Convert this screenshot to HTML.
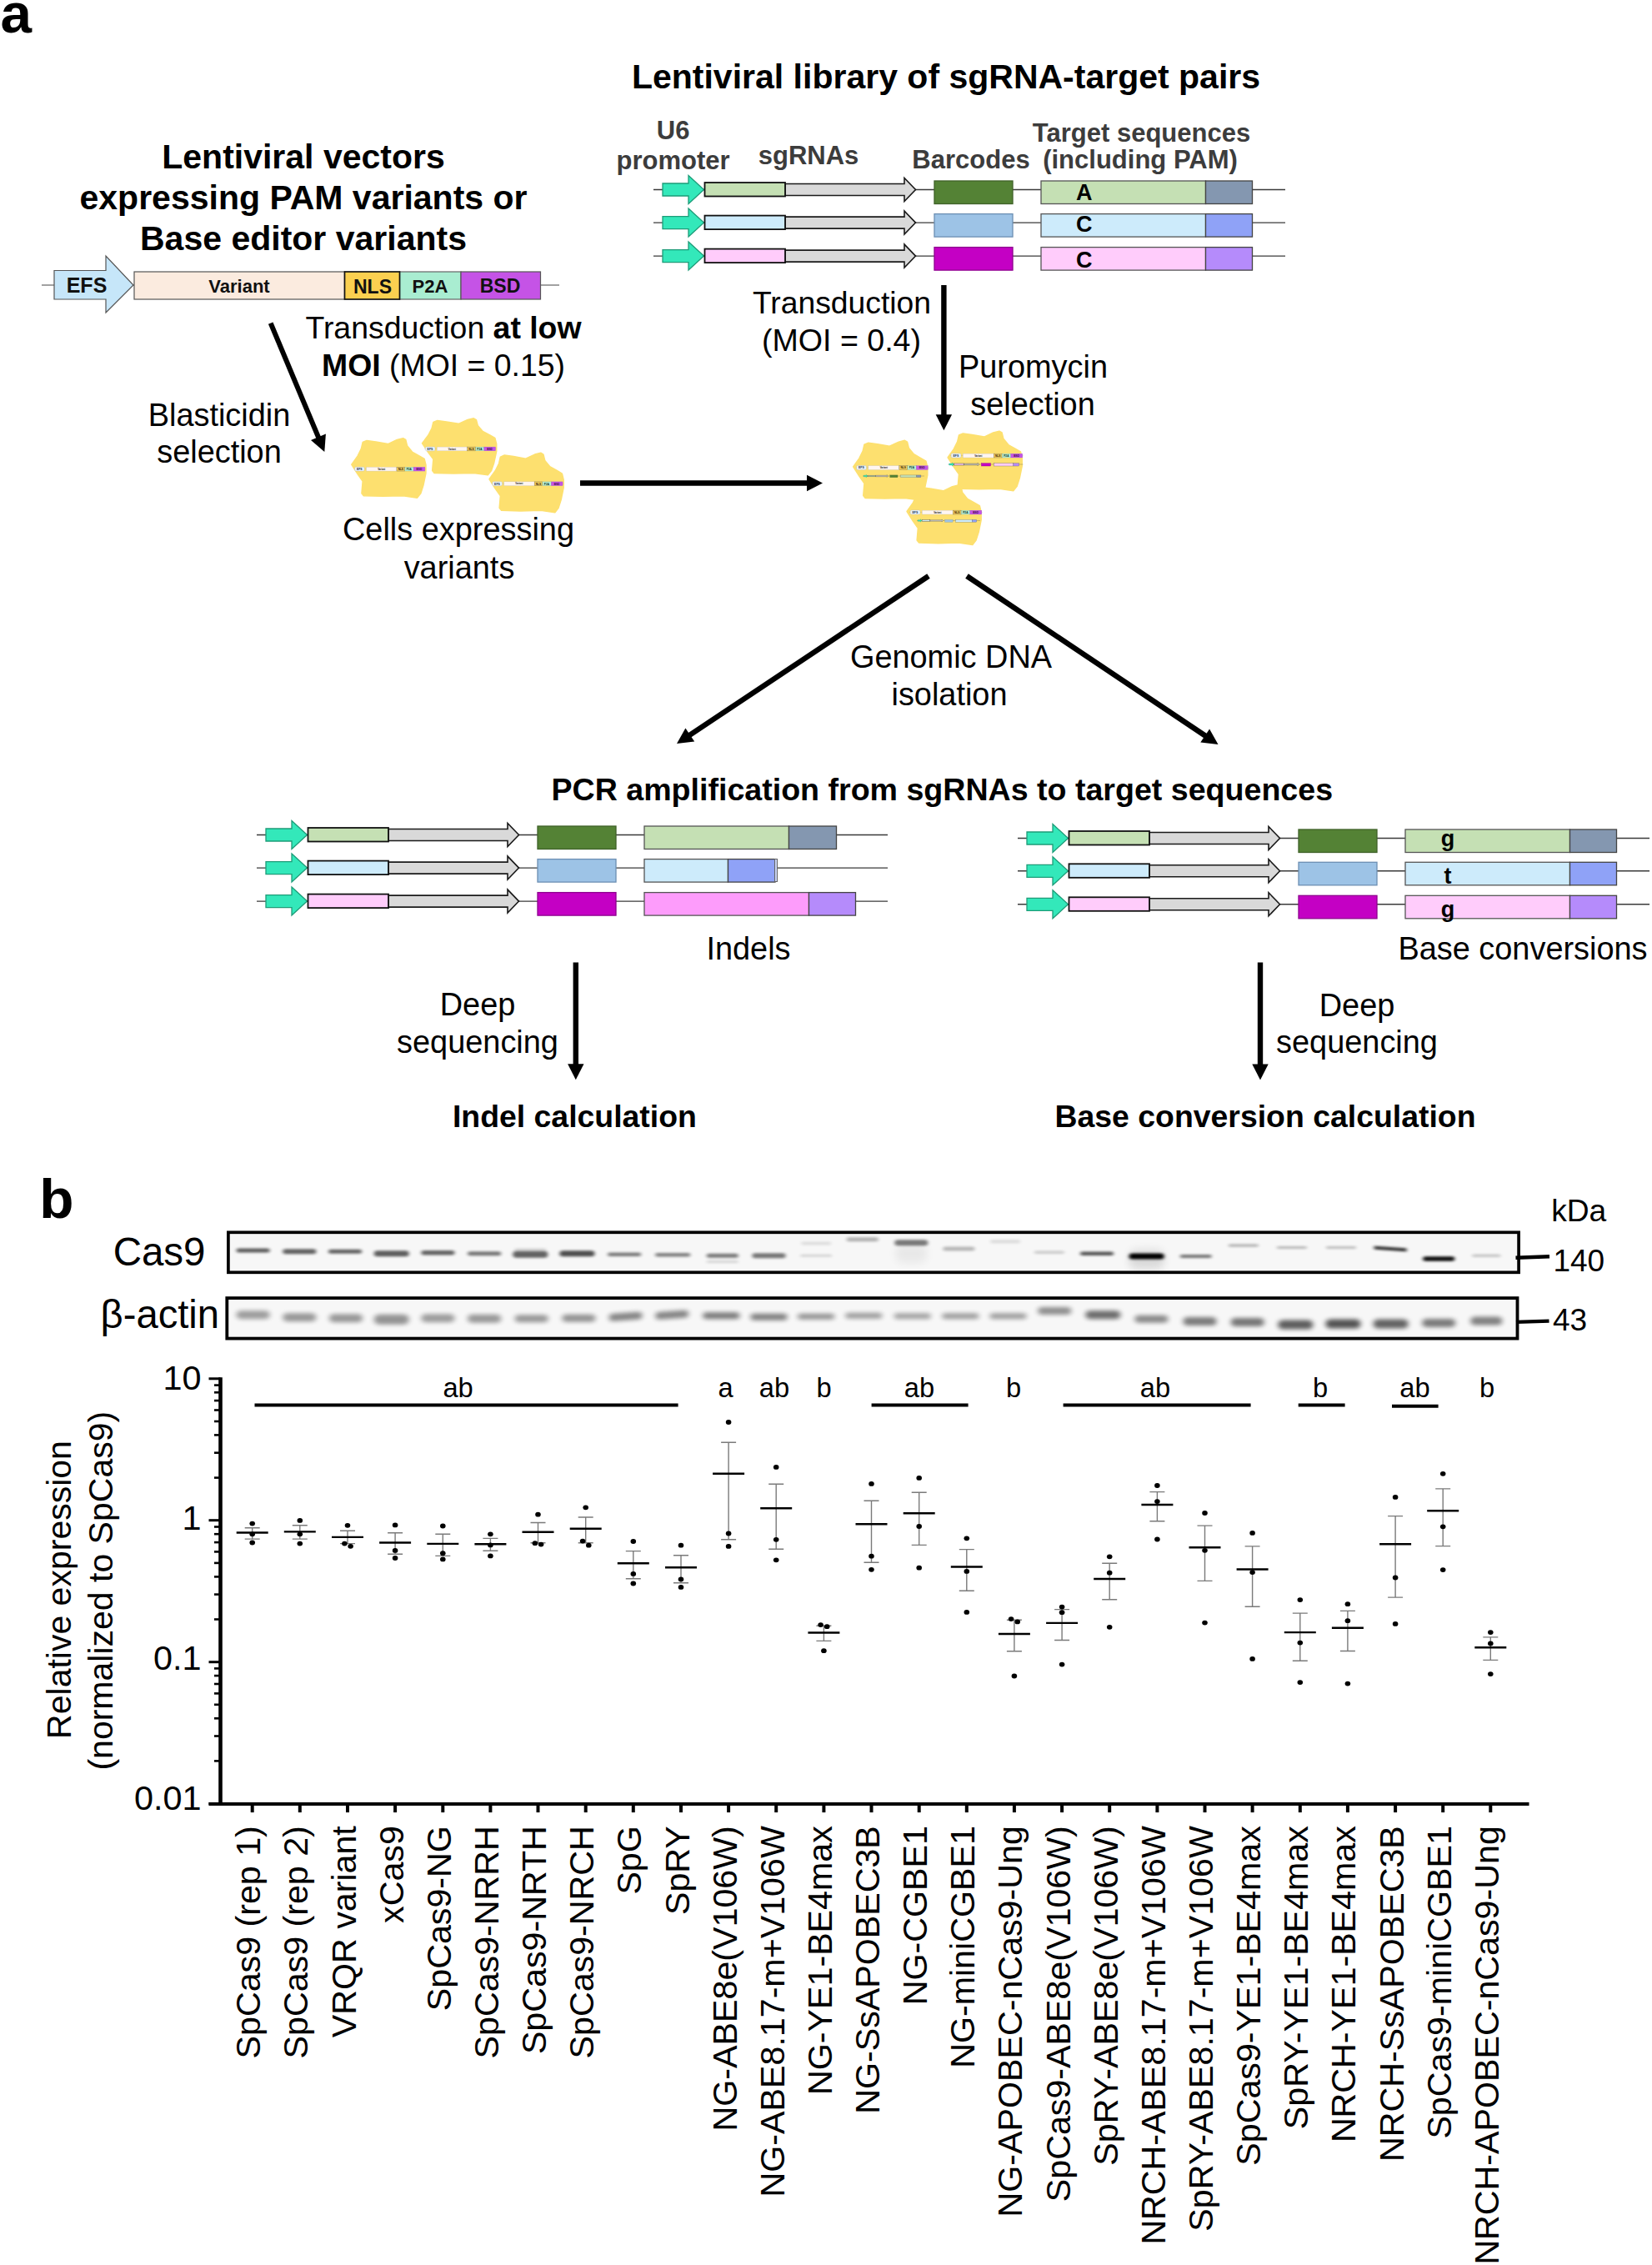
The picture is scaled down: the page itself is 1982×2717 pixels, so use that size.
<!DOCTYPE html><html><head><meta charset="utf-8"><title>Figure</title><style>html,body{margin:0;padding:0;background:#fff}svg{display:block}</style></head><body><svg width="1982" height="2717" viewBox="0 0 1982 2717" font-family='"Liberation Sans", sans-serif'>
<defs><filter id="b1" x="-20%" y="-200%" width="140%" height="500%"><feGaussianBlur stdDeviation="2.2 1.5"/></filter><filter id="b2" x="-20%" y="-200%" width="140%" height="500%"><feGaussianBlur stdDeviation="3.2 2.4"/></filter><filter id="b3" x="-20%" y="-100%" width="140%" height="300%"><feGaussianBlur stdDeviation="5 6"/></filter></defs>
<rect width="1982" height="2717" fill="#fff"/>
<text x="0.5" y="38.6" font-size="67.5" font-weight="700" text-anchor="start" fill="#000">a</text>
<text x="47.3" y="1460.8" font-size="67.5" font-weight="700" text-anchor="start" fill="#000">b</text>
<text x="364.0" y="201.6" font-size="41" font-weight="700" text-anchor="middle" fill="#000">Lentiviral vectors</text>
<text x="364.0" y="250.8" font-size="41" font-weight="700" text-anchor="middle" fill="#000">expressing PAM variants or</text>
<text x="364.0" y="300.0" font-size="41" font-weight="700" text-anchor="middle" fill="#000">Base editor variants</text>
<line x1="50" y1="342" x2="671" y2="342" stroke="#444" stroke-width="1.2"/>
<polygon points="65,324.5 127,324.5 127,307 160,342 127,375 127,359 65,359" fill="#c6e6f9" stroke="#555" stroke-width="1.2"/>
<rect x="161" y="326" width="252.5" height="33" fill="#fbebdf" stroke="#555" stroke-width="1.2"/>
<rect x="479.5" y="326" width="73.5" height="33" fill="#a9edd1" stroke="#666" stroke-width="1.2"/>
<rect x="553" y="326" width="95.5" height="33" fill="#c553e6" stroke="#555" stroke-width="1.2"/>
<rect x="413.5" y="326" width="66" height="33" fill="#fbd050" stroke="#111" stroke-width="1.68"/>
<text x="104.0" y="351.3" font-size="25" font-weight="700" text-anchor="middle" fill="#111">EFS</text>
<text x="287.0" y="351.3" font-size="22" font-weight="700" text-anchor="middle" fill="#111">Variant</text>
<text x="447.0" y="351.8" font-size="23" font-weight="700" text-anchor="middle" fill="#111">NLS</text>
<text x="516.0" y="351.3" font-size="22" font-weight="700" text-anchor="middle" fill="#111">P2A</text>
<text x="600.0" y="351.3" font-size="23" font-weight="700" text-anchor="middle" fill="#111">BSD</text>
<text x="1135.0" y="106.0" font-size="41" font-weight="700" text-anchor="middle" fill="#000">Lentiviral library of sgRNA-target pairs</text>
<text x="807.6" y="166.8" font-size="31" font-weight="700" text-anchor="middle" fill="#3c3c3c">U6</text>
<text x="807.6" y="203.3" font-size="31" font-weight="700" text-anchor="middle" fill="#3c3c3c">promoter</text>
<text x="970.0" y="196.8" font-size="31" font-weight="700" text-anchor="middle" fill="#3c3c3c">sgRNAs</text>
<text x="1165.0" y="201.6" font-size="31" font-weight="700" text-anchor="middle" fill="#3c3c3c">Barcodes</text>
<text x="1369.5" y="169.6" font-size="31" font-weight="700" text-anchor="middle" fill="#3c3c3c">Target sequences</text>
<text x="1368.0" y="202.2" font-size="31" font-weight="700" text-anchor="middle" fill="#3c3c3c">(including PAM)</text>
<line x1="784.0" y1="227.5" x2="1542.0" y2="227.5" stroke="#3a3a3a" stroke-width="1.4"/>
<polygon points="795.0,220.0 826.0,220.0 826.0,210.5 844.5,227.5 826.0,244.5 826.0,235.0 795.0,235.0" fill="#33e8ba" stroke="#1d9c78" stroke-width="1.3"/>
<polygon points="942.0,220.5 1085.0,220.5 1085.0,213.5 1098.5,227.5 1085.0,241.5 1085.0,234.5 942.0,234.5" fill="#d9d9d9" stroke="#1a1a1a" stroke-width="1.6"/>
<rect x="845.5" y="219.0" width="96.5" height="16.5" fill="#c5e0b4" stroke="#111" stroke-width="1.8"/>
<rect x="1121.0" y="217.0" width="94" height="27.5" fill="#548235" stroke="#3f6228" stroke-width="1.3"/>
<rect x="1249.0" y="217.0" width="197.5" height="27.5" fill="#c5e0b4" stroke="#555" stroke-width="1.3"/>
<rect x="1446.5" y="217.0" width="56.0" height="27.5" fill="#8497b0" stroke="#444" stroke-width="1.3"/>
<text x="1300.8" y="239.8" font-size="27" font-weight="700" text-anchor="middle" fill="#000">A</text>
<line x1="784.0" y1="267.1" x2="1542.0" y2="267.1" stroke="#3a3a3a" stroke-width="1.4"/>
<polygon points="795.0,259.6 826.0,259.6 826.0,250.1 844.5,267.1 826.0,284.1 826.0,274.6 795.0,274.6" fill="#33e8ba" stroke="#1d9c78" stroke-width="1.3"/>
<polygon points="942.0,260.1 1085.0,260.1 1085.0,253.1 1098.5,267.1 1085.0,281.1 1085.0,274.1 942.0,274.1" fill="#d9d9d9" stroke="#1a1a1a" stroke-width="1.6"/>
<rect x="845.5" y="258.6" width="96.5" height="16.5" fill="#cdebfb" stroke="#111" stroke-width="1.8"/>
<rect x="1121.0" y="256.6" width="94" height="27.5" fill="#9dc3e6" stroke="#6c8fb3" stroke-width="1.3"/>
<rect x="1249.0" y="256.6" width="197.5" height="27.5" fill="#cdebfb" stroke="#555" stroke-width="1.3"/>
<rect x="1446.5" y="256.6" width="56.0" height="27.5" fill="#8fa2f7" stroke="#444" stroke-width="1.3"/>
<text x="1300.8" y="277.9" font-size="27" font-weight="700" text-anchor="middle" fill="#000">C</text>
<line x1="784.0" y1="307.1" x2="1542.0" y2="307.1" stroke="#3a3a3a" stroke-width="1.4"/>
<polygon points="795.0,299.6 826.0,299.6 826.0,290.1 844.5,307.1 826.0,324.1 826.0,314.6 795.0,314.6" fill="#33e8ba" stroke="#1d9c78" stroke-width="1.3"/>
<polygon points="942.0,300.1 1085.0,300.1 1085.0,293.1 1098.5,307.1 1085.0,321.1 1085.0,314.1 942.0,314.1" fill="#d9d9d9" stroke="#1a1a1a" stroke-width="1.6"/>
<rect x="845.5" y="298.6" width="96.5" height="16.5" fill="#ffccfb" stroke="#111" stroke-width="1.8"/>
<rect x="1121.0" y="296.6" width="94" height="27.5" fill="#c400c4" stroke="#8e008e" stroke-width="1.3"/>
<rect x="1249.0" y="296.6" width="197.5" height="27.5" fill="#ffccfb" stroke="#555" stroke-width="1.3"/>
<rect x="1446.5" y="296.6" width="56.0" height="27.5" fill="#b58bfb" stroke="#444" stroke-width="1.3"/>
<text x="1300.8" y="320.9" font-size="27" font-weight="700" text-anchor="middle" fill="#000">C</text>
<text x="532" y="405.9" font-size="37.4" text-anchor="middle">Transduction <tspan font-weight="700">at low</tspan></text>
<text x="532" y="451.4" font-size="37.4" text-anchor="middle"><tspan font-weight="700">MOI</tspan> (MOI = 0.15)</text>
<text x="263.0" y="510.6" font-size="37.9" text-anchor="middle" fill="#000">Blasticidin</text>
<text x="263.0" y="555.1" font-size="37.9" text-anchor="middle" fill="#000">selection</text>
<text x="550.0" y="648.1" font-size="37.9" text-anchor="middle" fill="#000">Cells expressing</text>
<text x="551.0" y="693.6" font-size="37.9" text-anchor="middle" fill="#000">variants</text>
<text x="1010.0" y="376.0" font-size="37.3" text-anchor="middle" fill="#000">Transduction</text>
<text x="1009.5" y="421.3" font-size="37.6" text-anchor="middle" fill="#000">(MOI = 0.4)</text>
<text x="1239.5" y="453.4" font-size="37.9" text-anchor="middle" fill="#000">Puromycin</text>
<text x="1239.0" y="498.2" font-size="37.9" text-anchor="middle" fill="#000">selection</text>
<text x="1141.0" y="800.5" font-size="37.9" text-anchor="middle" fill="#000">Genomic DNA</text>
<text x="1139.0" y="845.6" font-size="37.9" text-anchor="middle" fill="#000">isolation</text>
<line x1="324.7" y1="387.6" x2="382.7" y2="526.2" stroke="#000" stroke-width="6"/>
<polygon points="389.3,541.9 373.0,528.1 390.9,520.6" fill="#000"/>
<line x1="1132.4" y1="342.0" x2="1132.4" y2="499.3" stroke="#000" stroke-width="6.4"/>
<polygon points="1132.4,516.3 1122.7,497.3 1142.1,497.3" fill="#000"/>
<line x1="696.0" y1="579.5" x2="970.0" y2="579.5" stroke="#000" stroke-width="6.4"/>
<polygon points="987.0,579.5 968.0,589.2 968.0,569.8" fill="#000"/>
<line x1="1114.0" y1="691.0" x2="826.2" y2="882.6" stroke="#000" stroke-width="6.4"/>
<polygon points="812.0,892.0 822.4,873.4 833.2,889.5" fill="#000"/>
<line x1="1160.0" y1="691.0" x2="1447.4" y2="883.5" stroke="#000" stroke-width="6.4"/>
<polygon points="1461.5,893.0 1440.3,890.5 1451.1,874.4" fill="#000"/>
<line x1="690.8" y1="1154.5" x2="690.8" y2="1278.3" stroke="#000" stroke-width="6.4"/>
<polygon points="690.8,1295.3 681.1,1276.3 700.5,1276.3" fill="#000"/>
<line x1="1512.0" y1="1154.5" x2="1512.0" y2="1278.6" stroke="#000" stroke-width="6.4"/>
<polygon points="1512.0,1295.6 1502.3,1276.6 1521.7,1276.6" fill="#000"/>
<polygon points="421.9,557.2 429.2,546.9 433.4,538.4 435.2,530.6 440.1,528.5 451.0,530.0 465.5,532.6 476.4,527.5 483.6,525.7 486.7,527.5 488.5,534.8 494.5,542.1 503.0,546.9 509.1,550.5 510.9,557.8 510.9,567.5 507.9,582.0 504.8,591.7 500.6,597.1 483.6,594.7 459.4,595.3 436.4,594.7 434.0,591.7 435.2,577.2 429.2,568.7" fill="#fde06f" stroke="#fde06f" stroke-width="1.6" stroke-linejoin="round"/>
<polygon points="506.6,531.8 513.9,522.0 518.1,513.9 519.9,506.5 524.8,504.5 535.7,506.0 550.2,508.4 561.1,503.6 568.3,501.9 571.4,503.6 573.2,510.5 579.2,517.5 587.7,522.0 593.8,525.4 595.6,532.4 595.6,541.6 592.6,555.4 589.5,564.6 585.3,569.7 568.3,567.4 544.1,568.0 521.1,567.4 518.7,564.6 519.9,550.8 513.9,542.7" fill="#fde06f" stroke="#fde06f" stroke-width="1.6" stroke-linejoin="round"/>
<polygon points="587.1,574.8 594.4,564.5 598.6,556.0 600.4,548.2 605.3,546.1 616.2,547.6 630.7,550.2 641.6,545.1 648.8,543.3 651.9,545.1 653.7,552.4 659.7,559.7 668.2,564.5 674.3,568.1 676.1,575.4 676.1,585.1 673.1,599.6 670.0,609.3 665.8,614.7 648.8,612.3 624.6,612.9 601.6,612.3 599.2,609.3 600.4,594.8 594.4,586.3" fill="#fde06f" stroke="#fde06f" stroke-width="1.6" stroke-linejoin="round"/>
<g transform="translate(423.5,562.6) scale(0.1443)">
<line x1="8" y1="0" x2="605" y2="0" stroke="#999" stroke-width="2"/>
<rect x="15" y="-17" width="80" height="34" rx="10" fill="#eaf5fc" stroke="#aac" stroke-width="2"/>
<rect x="111" y="-16" width="252.5" height="33" fill="#fff6f0" stroke="#bbb" stroke-width="2"/>
<rect x="429.5" y="-16" width="73.5" height="33" fill="#b5efd8" stroke="#8a8" stroke-width="2"/>
<rect x="503" y="-16" width="95.5" height="33" fill="#c553e6" stroke="#96c" stroke-width="2"/>
<rect x="363.5" y="-16" width="66" height="33" fill="#f3cf5a" stroke="#875" stroke-width="3"/>
<text x="54.0" y="9.3" font-size="24" font-weight="700" text-anchor="middle" fill="#235">EFS</text>
<text x="237.0" y="8.3" font-size="19" font-weight="700" text-anchor="middle" fill="#222">Variant</text>
<text x="397.0" y="9.3" font-size="22" font-weight="700" text-anchor="middle" fill="#321">NLS</text>
<text x="466.0" y="9.3" font-size="22" font-weight="700" text-anchor="middle" fill="#132">P2A</text>
<text x="550.0" y="9.3" font-size="22" font-weight="700" text-anchor="middle" fill="#414">BSD</text>
</g>
<g transform="translate(508.2,538.4) scale(0.1443)">
<line x1="8" y1="0" x2="605" y2="0" stroke="#999" stroke-width="2"/>
<rect x="15" y="-17" width="80" height="34" rx="10" fill="#eaf5fc" stroke="#aac" stroke-width="2"/>
<rect x="111" y="-16" width="252.5" height="33" fill="#fff6f0" stroke="#bbb" stroke-width="2"/>
<rect x="429.5" y="-16" width="73.5" height="33" fill="#b5efd8" stroke="#8a8" stroke-width="2"/>
<rect x="503" y="-16" width="95.5" height="33" fill="#c553e6" stroke="#96c" stroke-width="2"/>
<rect x="363.5" y="-16" width="66" height="33" fill="#f3cf5a" stroke="#875" stroke-width="3"/>
<text x="54.0" y="9.3" font-size="24" font-weight="700" text-anchor="middle" fill="#235">EFS</text>
<text x="237.0" y="8.3" font-size="19" font-weight="700" text-anchor="middle" fill="#222">Variant</text>
<text x="397.0" y="9.3" font-size="22" font-weight="700" text-anchor="middle" fill="#321">NLS</text>
<text x="466.0" y="9.3" font-size="22" font-weight="700" text-anchor="middle" fill="#132">P2A</text>
<text x="550.0" y="9.3" font-size="22" font-weight="700" text-anchor="middle" fill="#414">BSD</text>
</g>
<g transform="translate(588.7,580.2) scale(0.1443)">
<line x1="8" y1="0" x2="605" y2="0" stroke="#999" stroke-width="2"/>
<rect x="15" y="-17" width="80" height="34" rx="10" fill="#eaf5fc" stroke="#aac" stroke-width="2"/>
<rect x="111" y="-16" width="252.5" height="33" fill="#fff6f0" stroke="#bbb" stroke-width="2"/>
<rect x="429.5" y="-16" width="73.5" height="33" fill="#b5efd8" stroke="#8a8" stroke-width="2"/>
<rect x="503" y="-16" width="95.5" height="33" fill="#c553e6" stroke="#96c" stroke-width="2"/>
<rect x="363.5" y="-16" width="66" height="33" fill="#f3cf5a" stroke="#875" stroke-width="3"/>
<text x="54.0" y="9.3" font-size="24" font-weight="700" text-anchor="middle" fill="#235">EFS</text>
<text x="237.0" y="8.3" font-size="19" font-weight="700" text-anchor="middle" fill="#222">Variant</text>
<text x="397.0" y="9.3" font-size="22" font-weight="700" text-anchor="middle" fill="#321">NLS</text>
<text x="466.0" y="9.3" font-size="22" font-weight="700" text-anchor="middle" fill="#132">P2A</text>
<text x="550.0" y="9.3" font-size="22" font-weight="700" text-anchor="middle" fill="#414">BSD</text>
</g>
<polygon points="1023.7,559.9 1031.0,549.6 1035.2,541.1 1037.0,533.3 1041.9,531.2 1052.8,532.7 1067.3,535.3 1078.2,530.2 1085.4,528.4 1088.5,530.2 1090.3,537.5 1096.3,544.8 1104.8,549.6 1110.9,553.2 1112.7,560.5 1112.7,570.2 1109.7,584.7 1106.6,594.4 1102.4,599.8 1085.4,597.4 1061.2,598.0 1038.2,597.4 1035.8,594.4 1037.0,579.9 1031.0,571.4" fill="#fde06f" stroke="#fde06f" stroke-width="1.6" stroke-linejoin="round"/>
<polygon points="1137.2,548.7 1144.5,538.4 1148.7,529.9 1150.5,522.1 1155.4,520.0 1166.3,521.5 1180.8,524.1 1191.7,519.0 1198.9,517.2 1202.0,519.0 1203.8,526.3 1209.8,533.6 1218.3,538.4 1224.4,542.0 1226.2,549.3 1226.2,559.0 1223.2,573.5 1220.1,583.2 1215.9,588.6 1198.9,586.2 1174.7,586.8 1151.7,586.2 1149.3,583.2 1150.5,568.7 1144.5,560.2" fill="#fde06f" stroke="#fde06f" stroke-width="1.6" stroke-linejoin="round"/>
<polygon points="1088.1,613.5 1095.4,603.2 1099.6,594.7 1101.4,586.9 1106.3,584.8 1117.2,586.3 1131.7,588.9 1142.6,583.8 1149.8,582.0 1152.9,583.8 1154.7,591.1 1160.7,598.4 1169.2,603.2 1175.3,606.8 1177.1,614.1 1177.1,623.8 1174.1,638.3 1171.0,648.0 1166.8,653.4 1149.8,651.0 1125.6,651.6 1102.6,651.0 1100.2,648.0 1101.4,633.5 1095.4,625.0" fill="#fde06f" stroke="#fde06f" stroke-width="1.6" stroke-linejoin="round"/>
<g transform="translate(1025.5,561.0) scale(0.1467)">
<line x1="8" y1="0" x2="605" y2="0" stroke="#999" stroke-width="2"/>
<rect x="15" y="-17" width="80" height="34" rx="10" fill="#eaf5fc" stroke="#aac" stroke-width="2"/>
<rect x="111" y="-16" width="252.5" height="33" fill="#fff6f0" stroke="#bbb" stroke-width="2"/>
<rect x="429.5" y="-16" width="73.5" height="33" fill="#b5efd8" stroke="#8a8" stroke-width="2"/>
<rect x="503" y="-16" width="95.5" height="33" fill="#c553e6" stroke="#96c" stroke-width="2"/>
<rect x="363.5" y="-16" width="66" height="33" fill="#f3cf5a" stroke="#875" stroke-width="3"/>
<text x="54.0" y="9.3" font-size="24" font-weight="700" text-anchor="middle" fill="#235">EFS</text>
<text x="237.0" y="8.3" font-size="19" font-weight="700" text-anchor="middle" fill="#222">Variant</text>
<text x="397.0" y="9.3" font-size="22" font-weight="700" text-anchor="middle" fill="#321">NLS</text>
<text x="466.0" y="9.3" font-size="22" font-weight="700" text-anchor="middle" fill="#132">P2A</text>
<text x="550.0" y="9.3" font-size="22" font-weight="700" text-anchor="middle" fill="#414">BSD</text>
</g>
<g transform="translate(1035.0,571.0) scale(0.0974)">
<line x1="0" y1="0" x2="760" y2="0" stroke="#555" stroke-width="3"/>
<polygon points="11,-8 42,-8 42,-17 60,0 42,17 42,8 11,8" fill="#33e8ba" stroke="#1d9c78" stroke-width="3"/>
<polygon points="158,-7 301,-7 301,-14 314,0 301,14 301,7 158,7" fill="#d9d9d9" stroke="#444" stroke-width="4"/>
<rect x="61" y="-8.5" width="97" height="17" fill="#c5e0b4" stroke="#444" stroke-width="4"/>
<rect x="337" y="-11" width="94" height="28" fill="#548235" stroke="#3f6228" stroke-width="3"/>
<rect x="465" y="-11" width="197" height="28" fill="#c5e0b4" stroke="#666" stroke-width="3"/>
<rect x="662" y="-11" width="56" height="28" fill="#8497b0" stroke="#666" stroke-width="3"/>
</g>
<g transform="translate(1139.0,546.5) scale(0.1467)">
<line x1="8" y1="0" x2="605" y2="0" stroke="#999" stroke-width="2"/>
<rect x="15" y="-17" width="80" height="34" rx="10" fill="#eaf5fc" stroke="#aac" stroke-width="2"/>
<rect x="111" y="-16" width="252.5" height="33" fill="#fff6f0" stroke="#bbb" stroke-width="2"/>
<rect x="429.5" y="-16" width="73.5" height="33" fill="#b5efd8" stroke="#8a8" stroke-width="2"/>
<rect x="503" y="-16" width="95.5" height="33" fill="#c553e6" stroke="#96c" stroke-width="2"/>
<rect x="363.5" y="-16" width="66" height="33" fill="#f3cf5a" stroke="#875" stroke-width="3"/>
<text x="54.0" y="9.3" font-size="24" font-weight="700" text-anchor="middle" fill="#235">EFS</text>
<text x="237.0" y="8.3" font-size="19" font-weight="700" text-anchor="middle" fill="#222">Variant</text>
<text x="397.0" y="9.3" font-size="22" font-weight="700" text-anchor="middle" fill="#321">NLS</text>
<text x="466.0" y="9.3" font-size="22" font-weight="700" text-anchor="middle" fill="#132">P2A</text>
<text x="550.0" y="9.3" font-size="22" font-weight="700" text-anchor="middle" fill="#414">BSD</text>
</g>
<g transform="translate(1137.5,557.0) scale(0.1184)">
<line x1="0" y1="0" x2="760" y2="0" stroke="#555" stroke-width="3"/>
<polygon points="11,-8 42,-8 42,-17 60,0 42,17 42,8 11,8" fill="#33e8ba" stroke="#1d9c78" stroke-width="3"/>
<polygon points="158,-7 301,-7 301,-14 314,0 301,14 301,7 158,7" fill="#d9d9d9" stroke="#444" stroke-width="4"/>
<rect x="61" y="-8.5" width="97" height="17" fill="#ffccfb" stroke="#444" stroke-width="4"/>
<rect x="337" y="-11" width="94" height="28" fill="#c400c4" stroke="#8e008e" stroke-width="3"/>
<rect x="465" y="-11" width="197" height="28" fill="#ffccfb" stroke="#666" stroke-width="3"/>
<rect x="662" y="-11" width="56" height="28" fill="#b58bfb" stroke="#666" stroke-width="3"/>
</g>
<g transform="translate(1090.0,614.5) scale(0.1467)">
<line x1="8" y1="0" x2="605" y2="0" stroke="#999" stroke-width="2"/>
<rect x="15" y="-17" width="80" height="34" rx="10" fill="#eaf5fc" stroke="#aac" stroke-width="2"/>
<rect x="111" y="-16" width="252.5" height="33" fill="#fff6f0" stroke="#bbb" stroke-width="2"/>
<rect x="429.5" y="-16" width="73.5" height="33" fill="#b5efd8" stroke="#8a8" stroke-width="2"/>
<rect x="503" y="-16" width="95.5" height="33" fill="#c553e6" stroke="#96c" stroke-width="2"/>
<rect x="363.5" y="-16" width="66" height="33" fill="#f3cf5a" stroke="#875" stroke-width="3"/>
<text x="54.0" y="9.3" font-size="24" font-weight="700" text-anchor="middle" fill="#235">EFS</text>
<text x="237.0" y="8.3" font-size="19" font-weight="700" text-anchor="middle" fill="#222">Variant</text>
<text x="397.0" y="9.3" font-size="22" font-weight="700" text-anchor="middle" fill="#321">NLS</text>
<text x="466.0" y="9.3" font-size="22" font-weight="700" text-anchor="middle" fill="#132">P2A</text>
<text x="550.0" y="9.3" font-size="22" font-weight="700" text-anchor="middle" fill="#414">BSD</text>
</g>
<g transform="translate(1100.0,624.5) scale(0.1000)">
<line x1="0" y1="0" x2="760" y2="0" stroke="#555" stroke-width="3"/>
<polygon points="11,-8 42,-8 42,-17 60,0 42,17 42,8 11,8" fill="#33e8ba" stroke="#1d9c78" stroke-width="3"/>
<polygon points="158,-7 301,-7 301,-14 314,0 301,14 301,7 158,7" fill="#d9d9d9" stroke="#444" stroke-width="4"/>
<rect x="61" y="-8.5" width="97" height="17" fill="#cdebfb" stroke="#444" stroke-width="4"/>
<rect x="337" y="-11" width="94" height="28" fill="#9dc3e6" stroke="#6c8fb3" stroke-width="3"/>
<rect x="465" y="-11" width="197" height="28" fill="#cdebfb" stroke="#666" stroke-width="3"/>
<rect x="662" y="-11" width="56" height="28" fill="#8fa2f7" stroke="#666" stroke-width="3"/>
</g>
<text x="1130.3" y="959.8" font-size="37.6" font-weight="700" text-anchor="middle" fill="#000">PCR amplification from sgRNAs to target sequences</text>
<line x1="308.0" y1="1001.5" x2="1065.0" y2="1001.5" stroke="#3a3a3a" stroke-width="1.4"/>
<polygon points="319.0,994.0 350.0,994.0 350.0,984.5 368.5,1001.5 350.0,1018.5 350.0,1009.0 319.0,1009.0" fill="#33e8ba" stroke="#1d9c78" stroke-width="1.3"/>
<polygon points="466.0,994.5 609.0,994.5 609.0,987.5 622.5,1001.5 609.0,1015.5 609.0,1008.5 466.0,1008.5" fill="#d9d9d9" stroke="#1a1a1a" stroke-width="1.6"/>
<rect x="369.5" y="993.0" width="96.5" height="16.5" fill="#c5e0b4" stroke="#111" stroke-width="1.8"/>
<rect x="645.0" y="991.0" width="94" height="27.5" fill="#548235" stroke="#3f6228" stroke-width="1.3"/>
<rect x="773.0" y="991.0" width="173.5" height="27.5" fill="#c5e0b4" stroke="#555" stroke-width="1.3"/>
<rect x="946.5" y="991.0" width="57.0" height="27.5" fill="#8497b0" stroke="#444" stroke-width="1.3"/>
<line x1="308.0" y1="1041.1" x2="1065.0" y2="1041.1" stroke="#3a3a3a" stroke-width="1.4"/>
<polygon points="319.0,1033.6 350.0,1033.6 350.0,1024.1 368.5,1041.1 350.0,1058.1 350.0,1048.6 319.0,1048.6" fill="#33e8ba" stroke="#1d9c78" stroke-width="1.3"/>
<polygon points="466.0,1034.1 609.0,1034.1 609.0,1027.1 622.5,1041.1 609.0,1055.1 609.0,1048.1 466.0,1048.1" fill="#d9d9d9" stroke="#1a1a1a" stroke-width="1.6"/>
<rect x="369.5" y="1032.6" width="96.5" height="16.5" fill="#cdebfb" stroke="#111" stroke-width="1.8"/>
<rect x="645.0" y="1030.6" width="94" height="27.5" fill="#9dc3e6" stroke="#6c8fb3" stroke-width="1.3"/>
<rect x="773.0" y="1030.6" width="100.5" height="27.5" fill="#cdebfb" stroke="#555" stroke-width="1.3"/>
<rect x="873.5" y="1030.6" width="56.5" height="27.5" fill="#8fa2f7" stroke="#444" stroke-width="1.3"/>
<line x1="308.0" y1="1081.1" x2="1065.0" y2="1081.1" stroke="#3a3a3a" stroke-width="1.4"/>
<polygon points="319.0,1073.6 350.0,1073.6 350.0,1064.1 368.5,1081.1 350.0,1098.1 350.0,1088.6 319.0,1088.6" fill="#33e8ba" stroke="#1d9c78" stroke-width="1.3"/>
<polygon points="466.0,1074.1 609.0,1074.1 609.0,1067.1 622.5,1081.1 609.0,1095.1 609.0,1088.1 466.0,1088.1" fill="#d9d9d9" stroke="#1a1a1a" stroke-width="1.6"/>
<rect x="369.5" y="1072.6" width="96.5" height="16.5" fill="#ffccfb" stroke="#111" stroke-width="1.8"/>
<rect x="645.0" y="1070.6" width="94" height="27.5" fill="#c400c4" stroke="#8e008e" stroke-width="1.3"/>
<rect x="773.0" y="1070.6" width="197.5" height="27.5" fill="#fd9cfb" stroke="#555" stroke-width="1.3"/>
<rect x="970.5" y="1070.6" width="56.0" height="27.5" fill="#b58bfb" stroke="#444" stroke-width="1.3"/>
<rect x="929.5" y="1030.5" width="3" height="27" fill="#c9d4f5" stroke="#666" stroke-width="1"/>
<line x1="1221.0" y1="1005.5" x2="1979.0" y2="1005.5" stroke="#3a3a3a" stroke-width="1.4"/>
<polygon points="1232.0,998.0 1263.0,998.0 1263.0,988.5 1281.5,1005.5 1263.0,1022.5 1263.0,1013.0 1232.0,1013.0" fill="#33e8ba" stroke="#1d9c78" stroke-width="1.3"/>
<polygon points="1379.0,998.5 1522.0,998.5 1522.0,991.5 1535.5,1005.5 1522.0,1019.5 1522.0,1012.5 1379.0,1012.5" fill="#d9d9d9" stroke="#1a1a1a" stroke-width="1.6"/>
<rect x="1282.5" y="997.0" width="96.5" height="16.5" fill="#c5e0b4" stroke="#111" stroke-width="1.8"/>
<rect x="1558.0" y="995.0" width="94" height="27.5" fill="#548235" stroke="#3f6228" stroke-width="1.3"/>
<rect x="1686.0" y="995.0" width="197.5" height="27.5" fill="#c5e0b4" stroke="#555" stroke-width="1.3"/>
<rect x="1883.5" y="995.0" width="56.0" height="27.5" fill="#8497b0" stroke="#444" stroke-width="1.3"/>
<text x="1737.0" y="1014.8" font-size="27" font-weight="700" text-anchor="middle" fill="#000">g</text>
<line x1="1221.0" y1="1044.8" x2="1979.0" y2="1044.8" stroke="#3a3a3a" stroke-width="1.4"/>
<polygon points="1232.0,1037.3 1263.0,1037.3 1263.0,1027.8 1281.5,1044.8 1263.0,1061.8 1263.0,1052.3 1232.0,1052.3" fill="#33e8ba" stroke="#1d9c78" stroke-width="1.3"/>
<polygon points="1379.0,1037.8 1522.0,1037.8 1522.0,1030.8 1535.5,1044.8 1522.0,1058.8 1522.0,1051.8 1379.0,1051.8" fill="#d9d9d9" stroke="#1a1a1a" stroke-width="1.6"/>
<rect x="1282.5" y="1036.3" width="96.5" height="16.5" fill="#cdebfb" stroke="#111" stroke-width="1.8"/>
<rect x="1558.0" y="1034.3" width="94" height="27.5" fill="#9dc3e6" stroke="#6c8fb3" stroke-width="1.3"/>
<rect x="1686.0" y="1034.3" width="197.5" height="27.5" fill="#cdebfb" stroke="#555" stroke-width="1.3"/>
<rect x="1883.5" y="1034.3" width="56.0" height="27.5" fill="#8fa2f7" stroke="#444" stroke-width="1.3"/>
<text x="1737.0" y="1059.6" font-size="27" font-weight="700" text-anchor="middle" fill="#000">t</text>
<line x1="1221.0" y1="1084.8" x2="1979.0" y2="1084.8" stroke="#3a3a3a" stroke-width="1.4"/>
<polygon points="1232.0,1077.3 1263.0,1077.3 1263.0,1067.8 1281.5,1084.8 1263.0,1101.8 1263.0,1092.3 1232.0,1092.3" fill="#33e8ba" stroke="#1d9c78" stroke-width="1.3"/>
<polygon points="1379.0,1077.8 1522.0,1077.8 1522.0,1070.8 1535.5,1084.8 1522.0,1098.8 1522.0,1091.8 1379.0,1091.8" fill="#d9d9d9" stroke="#1a1a1a" stroke-width="1.6"/>
<rect x="1282.5" y="1076.3" width="96.5" height="16.5" fill="#ffccfb" stroke="#111" stroke-width="1.8"/>
<rect x="1558.0" y="1074.3" width="94" height="27.5" fill="#c400c4" stroke="#8e008e" stroke-width="1.3"/>
<rect x="1686.0" y="1074.3" width="197.5" height="27.5" fill="#ffccfb" stroke="#555" stroke-width="1.3"/>
<rect x="1883.5" y="1074.3" width="56.0" height="27.5" fill="#b58bfb" stroke="#444" stroke-width="1.3"/>
<text x="1737.0" y="1099.6" font-size="27" font-weight="700" text-anchor="middle" fill="#000">g</text>
<text x="898.0" y="1151.4" font-size="37.9" text-anchor="middle" fill="#000">Indels</text>
<text x="1827.0" y="1150.8" font-size="37.9" text-anchor="middle" fill="#000">Base conversions</text>
<text x="573.0" y="1217.8" font-size="37.9" text-anchor="middle" fill="#000">Deep</text>
<text x="573.0" y="1263.1" font-size="37.9" text-anchor="middle" fill="#000">sequencing</text>
<text x="1628.0" y="1218.8" font-size="37.9" text-anchor="middle" fill="#000">Deep</text>
<text x="1628.0" y="1262.5" font-size="37.9" text-anchor="middle" fill="#000">sequencing</text>
<text x="689.4" y="1352.1" font-size="37.4" font-weight="700" text-anchor="middle" fill="#000">Indel calculation</text>
<text x="1518.0" y="1352.3" font-size="37.4" font-weight="700" text-anchor="middle" fill="#000">Base conversion calculation</text>
<text x="191.1" y="1518.2" font-size="47.5" text-anchor="middle" fill="#000">Cas9</text>
<text x="191.8" y="1592.6" font-size="47.2" text-anchor="middle" fill="#000">β-actin</text>
<text x="1894.2" y="1465.1" font-size="37.2" text-anchor="middle" fill="#000">kDa</text>
<text x="1863.4" y="1524.6" font-size="37" text-anchor="start" fill="#000">140</text>
<text x="1863.0" y="1596.2" font-size="37" text-anchor="start" fill="#000">43</text>
<rect x="273.9" y="1478.3" width="1548.2" height="48" fill="#f7f7f7"/>
<rect x="272.3" y="1557.1" width="1548.2" height="48.5" fill="#f7f7f7"/>
<rect x="283.6" y="1497.4" width="40" height="5" rx="2.5" fill="#000" opacity="0.62" filter="url(#b1)"/>
<rect x="339.3" y="1498.3" width="40" height="6" rx="3.0" fill="#000" opacity="0.6" filter="url(#b1)"/>
<rect x="394.0" y="1498.8" width="40" height="5" rx="2.5" fill="#000" opacity="0.6" filter="url(#b1)"/>
<rect x="448.7" y="1500.2" width="42" height="7" rx="3.5" fill="#000" opacity="0.62" filter="url(#b1)"/>
<rect x="505.4" y="1500.0" width="40" height="5.5" rx="2.8" fill="#000" opacity="0.6" filter="url(#b1)"/>
<rect x="561.1" y="1501.2" width="40" height="5" rx="2.5" fill="#000" opacity="0.52" filter="url(#b1)"/>
<rect x="615.3" y="1500.7" width="42" height="8" rx="4.0" fill="#000" opacity="0.6" filter="url(#b1)"/>
<rect x="671.4" y="1500.2" width="42" height="7" rx="3.5" fill="#000" opacity="0.68" filter="url(#b1)"/>
<rect x="729.1" y="1502.5" width="40" height="4.5" rx="2.2" fill="#000" opacity="0.5" filter="url(#b1)"/>
<rect x="786.2" y="1502.9" width="42" height="4.5" rx="2.2" fill="#000" opacity="0.48" filter="url(#b1)"/>
<rect x="847.8" y="1503.7" width="38" height="5" rx="2.5" fill="#000" opacity="0.5" filter="url(#b1)"/>
<rect x="902.5" y="1503.2" width="40" height="6" rx="3.0" fill="#000" opacity="0.52" filter="url(#b1)"/>
<rect x="961.1" y="1489.6" width="36" height="4" rx="2.0" fill="#000" opacity="0.1" filter="url(#b1)"/>
<rect x="1015.8" y="1484.3" width="38" height="5" rx="2.5" fill="#000" opacity="0.28" filter="url(#b1)"/>
<rect x="617.3" y="1497.4" width="38" height="3" rx="1.5" fill="#000" opacity="0.14" filter="url(#b1)"/>
<rect x="847.8" y="1511.9" width="38" height="3" rx="1.5" fill="#000" opacity="0.14" filter="url(#b1)"/>
<rect x="960.1" y="1504.7" width="38" height="3" rx="1.5" fill="#000" opacity="0.14" filter="url(#b1)"/>
<rect x="1073.3" y="1487.2" width="40" height="7" rx="3.5" fill="#000" opacity="0.5" filter="url(#b1)"/>
<rect x="1131.4" y="1495.4" width="38" height="5" rx="2.5" fill="#000" opacity="0.26" filter="url(#b1)"/>
<rect x="1188.1" y="1487.0" width="36" height="4.5" rx="2.2" fill="#000" opacity="0.1" filter="url(#b1)"/>
<rect x="1240.9" y="1500.5" width="36" height="3.5" rx="1.8" fill="#000" opacity="0.18" filter="url(#b1)"/>
<rect x="1296.0" y="1501.5" width="40" height="4.5" rx="2.2" fill="#000" opacity="0.66" filter="url(#b1)"/>
<rect x="1354.6" y="1503.6" width="42" height="7" rx="3.5" fill="#000" opacity="1.0" filter="url(#b1)"/>
<rect x="1415.7" y="1505.1" width="38" height="4" rx="2.0" fill="#000" opacity="0.52" filter="url(#b1)"/>
<rect x="1473.8" y="1492.6" width="36" height="3" rx="1.5" fill="#000" opacity="0.3" filter="url(#b1)"/>
<rect x="1531.9" y="1495.0" width="36" height="3" rx="1.5" fill="#000" opacity="0.26" filter="url(#b1)"/>
<rect x="1591.0" y="1495.0" width="36" height="3" rx="1.5" fill="#000" opacity="0.24" filter="url(#b1)"/>
<rect x="1648.1" y="1495.9" width="40" height="4" rx="2.0" fill="#000" opacity="0.8" filter="url(#b1)" transform="rotate(4 1668.1 1497.9)"/>
<rect x="1707.2" y="1507.3" width="38" height="5.5" rx="2.8" fill="#000" opacity="0.95" filter="url(#b1)"/>
<rect x="1766.3" y="1504.7" width="34" height="3" rx="1.5" fill="#000" opacity="0.22" filter="url(#b1)"/>
<rect x="1353.6" y="1500.0" width="44" height="22" rx="11.0" fill="#000" opacity="0.12" filter="url(#b3)"/>
<rect x="1073.3" y="1492.7" width="40" height="22" rx="11.0" fill="#000" opacity="0.06" filter="url(#b3)"/>
<rect x="283.6" y="1572.3" width="40" height="10" rx="5.0" fill="#000" opacity="0.36" filter="url(#b2)"/>
<rect x="339.3" y="1575.3" width="40" height="10" rx="5.0" fill="#000" opacity="0.38" filter="url(#b2)"/>
<rect x="395.0" y="1576.2" width="40" height="10" rx="5.0" fill="#000" opacity="0.38" filter="url(#b2)"/>
<rect x="448.7" y="1576.7" width="42" height="12" rx="6.0" fill="#000" opacity="0.4" filter="url(#b2)"/>
<rect x="505.4" y="1576.2" width="40" height="10" rx="5.0" fill="#000" opacity="0.36" filter="url(#b2)"/>
<rect x="561.1" y="1576.7" width="40" height="10" rx="5.0" fill="#000" opacity="0.38" filter="url(#b2)"/>
<rect x="617.7" y="1577.2" width="40" height="9" rx="4.5" fill="#000" opacity="0.38" filter="url(#b2)"/>
<rect x="674.4" y="1576.7" width="40" height="9" rx="4.5" fill="#000" opacity="0.4" filter="url(#b2)"/>
<rect x="730.6" y="1574.8" width="40" height="9" rx="4.5" fill="#000" opacity="0.46" filter="url(#b2)" transform="rotate(-4 750.6 1579.3)"/>
<rect x="786.2" y="1572.8" width="40" height="9" rx="4.5" fill="#000" opacity="0.46" filter="url(#b2)" transform="rotate(-4 806.2 1577.3)"/>
<rect x="843.3" y="1574.3" width="44" height="8" rx="4.0" fill="#000" opacity="0.5" filter="url(#b2)"/>
<rect x="900.5" y="1575.8" width="44" height="8" rx="4.0" fill="#000" opacity="0.48" filter="url(#b2)"/>
<rect x="957.1" y="1575.8" width="44" height="7" rx="3.5" fill="#000" opacity="0.4" filter="url(#b2)"/>
<rect x="1014.3" y="1574.8" width="44" height="7" rx="3.5" fill="#000" opacity="0.36" filter="url(#b2)"/>
<rect x="1072.7" y="1575.3" width="44" height="7" rx="3.5" fill="#000" opacity="0.34" filter="url(#b2)"/>
<rect x="1130.3" y="1575.3" width="44" height="7" rx="3.5" fill="#000" opacity="0.36" filter="url(#b2)"/>
<rect x="1187.5" y="1575.3" width="44" height="7" rx="3.5" fill="#000" opacity="0.36" filter="url(#b2)"/>
<rect x="1245.2" y="1568.0" width="40" height="9" rx="4.5" fill="#000" opacity="0.42" filter="url(#b2)"/>
<rect x="1302.3" y="1572.3" width="42" height="10" rx="5.0" fill="#000" opacity="0.56" filter="url(#b2)"/>
<rect x="1361.4" y="1577.7" width="40" height="9" rx="4.5" fill="#000" opacity="0.44" filter="url(#b2)"/>
<rect x="1419.5" y="1580.1" width="40" height="10" rx="5.0" fill="#000" opacity="0.5" filter="url(#b2)"/>
<rect x="1476.7" y="1581.1" width="40" height="10" rx="5.0" fill="#000" opacity="0.52" filter="url(#b2)"/>
<rect x="1533.3" y="1583.5" width="42" height="11" rx="5.5" fill="#000" opacity="0.62" filter="url(#b2)"/>
<rect x="1590.4" y="1582.5" width="42" height="11" rx="5.5" fill="#000" opacity="0.66" filter="url(#b2)"/>
<rect x="1647.6" y="1582.5" width="42" height="11" rx="5.5" fill="#000" opacity="0.6" filter="url(#b2)"/>
<rect x="1706.2" y="1582.0" width="40" height="10" rx="5.0" fill="#000" opacity="0.5" filter="url(#b2)"/>
<rect x="1764.3" y="1579.6" width="38" height="10" rx="5.0" fill="#000" opacity="0.48" filter="url(#b2)"/>
<rect x="273.9" y="1478.3" width="1548.2" height="48" fill="none" stroke="#000" stroke-width="3.7"/>
<rect x="272.3" y="1557.1" width="1548.2" height="48.5" fill="none" stroke="#000" stroke-width="3.8"/>
<line x1="1818.5" y1="1508.8" x2="1859" y2="1507.2" stroke="#000" stroke-width="4.4"/>
<line x1="1819" y1="1585.9" x2="1858.5" y2="1584.6" stroke="#000" stroke-width="4.4"/>
<line x1="264.5" y1="1652.3" x2="264.5" y2="2165.7999999999997" stroke="#000" stroke-width="4.6"/>
<line x1="250.5" y1="2164.1" x2="1834.5" y2="2164.1" stroke="#000" stroke-width="4"/>
<line x1="250.5" y1="1653.8" x2="264.5" y2="1653.8" stroke="#000" stroke-width="3"/>
<line x1="257" y1="1772.6" x2="264.5" y2="1772.6" stroke="#000" stroke-width="2.6"/>
<line x1="257" y1="1742.7" x2="264.5" y2="1742.7" stroke="#000" stroke-width="2.6"/>
<line x1="257" y1="1721.4" x2="264.5" y2="1721.4" stroke="#000" stroke-width="2.6"/>
<line x1="257" y1="1705.0" x2="264.5" y2="1705.0" stroke="#000" stroke-width="2.6"/>
<line x1="257" y1="1691.5" x2="264.5" y2="1691.5" stroke="#000" stroke-width="2.6"/>
<line x1="257" y1="1680.1" x2="264.5" y2="1680.1" stroke="#000" stroke-width="2.6"/>
<line x1="257" y1="1670.3" x2="264.5" y2="1670.3" stroke="#000" stroke-width="2.6"/>
<line x1="257" y1="1661.6" x2="264.5" y2="1661.6" stroke="#000" stroke-width="2.6"/>
<line x1="250.5" y1="1823.7" x2="264.5" y2="1823.7" stroke="#000" stroke-width="3"/>
<line x1="257" y1="1942.5" x2="264.5" y2="1942.5" stroke="#000" stroke-width="2.6"/>
<line x1="257" y1="1912.6" x2="264.5" y2="1912.6" stroke="#000" stroke-width="2.6"/>
<line x1="257" y1="1891.4" x2="264.5" y2="1891.4" stroke="#000" stroke-width="2.6"/>
<line x1="257" y1="1874.9" x2="264.5" y2="1874.9" stroke="#000" stroke-width="2.6"/>
<line x1="257" y1="1861.4" x2="264.5" y2="1861.4" stroke="#000" stroke-width="2.6"/>
<line x1="257" y1="1850.1" x2="264.5" y2="1850.1" stroke="#000" stroke-width="2.6"/>
<line x1="257" y1="1840.2" x2="264.5" y2="1840.2" stroke="#000" stroke-width="2.6"/>
<line x1="257" y1="1831.5" x2="264.5" y2="1831.5" stroke="#000" stroke-width="2.6"/>
<line x1="250.5" y1="1993.7" x2="264.5" y2="1993.7" stroke="#000" stroke-width="3"/>
<line x1="257" y1="2112.4" x2="264.5" y2="2112.4" stroke="#000" stroke-width="2.6"/>
<line x1="257" y1="2082.5" x2="264.5" y2="2082.5" stroke="#000" stroke-width="2.6"/>
<line x1="257" y1="2061.3" x2="264.5" y2="2061.3" stroke="#000" stroke-width="2.6"/>
<line x1="257" y1="2044.8" x2="264.5" y2="2044.8" stroke="#000" stroke-width="2.6"/>
<line x1="257" y1="2031.4" x2="264.5" y2="2031.4" stroke="#000" stroke-width="2.6"/>
<line x1="257" y1="2020.0" x2="264.5" y2="2020.0" stroke="#000" stroke-width="2.6"/>
<line x1="257" y1="2010.1" x2="264.5" y2="2010.1" stroke="#000" stroke-width="2.6"/>
<line x1="257" y1="2001.4" x2="264.5" y2="2001.4" stroke="#000" stroke-width="2.6"/>
<line x1="250.5" y1="2163.6" x2="264.5" y2="2163.6" stroke="#000" stroke-width="3"/>
<line x1="302.7" y1="2163.6" x2="302.7" y2="2174.1" stroke="#000" stroke-width="4"/>
<line x1="359.8" y1="2163.6" x2="359.8" y2="2174.1" stroke="#000" stroke-width="4"/>
<line x1="417.0" y1="2163.6" x2="417.0" y2="2174.1" stroke="#000" stroke-width="4"/>
<line x1="474.1" y1="2163.6" x2="474.1" y2="2174.1" stroke="#000" stroke-width="4"/>
<line x1="531.3" y1="2163.6" x2="531.3" y2="2174.1" stroke="#000" stroke-width="4"/>
<line x1="588.4" y1="2163.6" x2="588.4" y2="2174.1" stroke="#000" stroke-width="4"/>
<line x1="645.5" y1="2163.6" x2="645.5" y2="2174.1" stroke="#000" stroke-width="4"/>
<line x1="702.7" y1="2163.6" x2="702.7" y2="2174.1" stroke="#000" stroke-width="4"/>
<line x1="759.8" y1="2163.6" x2="759.8" y2="2174.1" stroke="#000" stroke-width="4"/>
<line x1="817.0" y1="2163.6" x2="817.0" y2="2174.1" stroke="#000" stroke-width="4"/>
<line x1="874.1" y1="2163.6" x2="874.1" y2="2174.1" stroke="#000" stroke-width="4"/>
<line x1="931.2" y1="2163.6" x2="931.2" y2="2174.1" stroke="#000" stroke-width="4"/>
<line x1="988.4" y1="2163.6" x2="988.4" y2="2174.1" stroke="#000" stroke-width="4"/>
<line x1="1045.5" y1="2163.6" x2="1045.5" y2="2174.1" stroke="#000" stroke-width="4"/>
<line x1="1102.7" y1="2163.6" x2="1102.7" y2="2174.1" stroke="#000" stroke-width="4"/>
<line x1="1159.8" y1="2163.6" x2="1159.8" y2="2174.1" stroke="#000" stroke-width="4"/>
<line x1="1216.9" y1="2163.6" x2="1216.9" y2="2174.1" stroke="#000" stroke-width="4"/>
<line x1="1274.1" y1="2163.6" x2="1274.1" y2="2174.1" stroke="#000" stroke-width="4"/>
<line x1="1331.2" y1="2163.6" x2="1331.2" y2="2174.1" stroke="#000" stroke-width="4"/>
<line x1="1388.4" y1="2163.6" x2="1388.4" y2="2174.1" stroke="#000" stroke-width="4"/>
<line x1="1445.5" y1="2163.6" x2="1445.5" y2="2174.1" stroke="#000" stroke-width="4"/>
<line x1="1502.6" y1="2163.6" x2="1502.6" y2="2174.1" stroke="#000" stroke-width="4"/>
<line x1="1559.8" y1="2163.6" x2="1559.8" y2="2174.1" stroke="#000" stroke-width="4"/>
<line x1="1616.9" y1="2163.6" x2="1616.9" y2="2174.1" stroke="#000" stroke-width="4"/>
<line x1="1674.1" y1="2163.6" x2="1674.1" y2="2174.1" stroke="#000" stroke-width="4"/>
<line x1="1731.2" y1="2163.6" x2="1731.2" y2="2174.1" stroke="#000" stroke-width="4"/>
<line x1="1788.3" y1="2163.6" x2="1788.3" y2="2174.1" stroke="#000" stroke-width="4"/>
<text x="241.5" y="1667.3" font-size="41.4" text-anchor="end" fill="#000">10</text>
<text x="241.5" y="1834.9" font-size="41.4" text-anchor="end" fill="#000">1</text>
<text x="241.5" y="2002.8" font-size="41.4" text-anchor="end" fill="#000">0.1</text>
<text x="241.5" y="2170.8" font-size="41.4" text-anchor="end" fill="#000">0.01</text>
<text transform="translate(84.8,1907) rotate(-90)" font-size="41" text-anchor="middle">Relative expression</text>
<text transform="translate(134.6,1908.2) rotate(-90)" font-size="41" text-anchor="middle">(normalized to SpCas9)</text>
<text transform="translate(312.2,2190.2) rotate(-90)" font-size="41.2" text-anchor="end">SpCas9 (rep 1)</text>
<text transform="translate(369.3,2190.2) rotate(-90)" font-size="41.2" text-anchor="end">SpCas9 (rep 2)</text>
<text transform="translate(426.5,2190.2) rotate(-90)" font-size="41.2" text-anchor="end">VRQR variant</text>
<text transform="translate(483.6,2190.2) rotate(-90)" font-size="41.2" text-anchor="end">xCas9</text>
<text transform="translate(540.8,2190.2) rotate(-90)" font-size="41.2" text-anchor="end">SpCas9-NG</text>
<text transform="translate(597.9,2190.2) rotate(-90)" font-size="41.2" text-anchor="end">SpCas9-NRRH</text>
<text transform="translate(655.0,2190.2) rotate(-90)" font-size="41.2" text-anchor="end">SpCas9-NRTH</text>
<text transform="translate(712.2,2190.2) rotate(-90)" font-size="41.2" text-anchor="end">SpCas9-NRCH</text>
<text transform="translate(769.3,2190.2) rotate(-90)" font-size="41.2" text-anchor="end">SpG</text>
<text transform="translate(826.5,2190.2) rotate(-90)" font-size="41.2" text-anchor="end">SpRY</text>
<text transform="translate(883.6,2190.2) rotate(-90)" font-size="41.2" text-anchor="end">NG-ABE8e(V106W)</text>
<text transform="translate(940.7,2190.2) rotate(-90)" font-size="41.2" text-anchor="end">NG-ABE8.17-m+V106W</text>
<text transform="translate(997.9,2190.2) rotate(-90)" font-size="41.2" text-anchor="end">NG-YE1-BE4max</text>
<text transform="translate(1055.0,2190.2) rotate(-90)" font-size="41.2" text-anchor="end">NG-SsAPOBEC3B</text>
<text transform="translate(1112.2,2190.2) rotate(-90)" font-size="41.2" text-anchor="end">NG-CGBE1</text>
<text transform="translate(1169.3,2190.2) rotate(-90)" font-size="41.2" text-anchor="end">NG-miniCGBE1</text>
<text transform="translate(1226.4,2190.2) rotate(-90)" font-size="41.2" text-anchor="end">NG-APOBEC-nCas9-Ung</text>
<text transform="translate(1283.6,2190.2) rotate(-90)" font-size="41.2" text-anchor="end">SpCas9-ABE8e(V106W)</text>
<text transform="translate(1340.7,2190.2) rotate(-90)" font-size="41.2" text-anchor="end">SpRY-ABE8e(V106W)</text>
<text transform="translate(1397.9,2190.2) rotate(-90)" font-size="41.2" text-anchor="end">NRCH-ABE8.17-m+V106W</text>
<text transform="translate(1455.0,2190.2) rotate(-90)" font-size="41.2" text-anchor="end">SpRY-ABE8.17-m+V106W</text>
<text transform="translate(1512.1,2190.2) rotate(-90)" font-size="41.2" text-anchor="end">SpCas9-YE1-BE4max</text>
<text transform="translate(1569.3,2190.2) rotate(-90)" font-size="41.2" text-anchor="end">SpRY-YE1-BE4max</text>
<text transform="translate(1626.4,2190.2) rotate(-90)" font-size="41.2" text-anchor="end">NRCH-YE1-BE4max</text>
<text transform="translate(1683.6,2190.2) rotate(-90)" font-size="41.2" text-anchor="end">NRCH-SsAPOBEC3B</text>
<text transform="translate(1740.7,2190.2) rotate(-90)" font-size="41.2" text-anchor="end">SpCas9-miniCGBE1</text>
<text transform="translate(1797.8,2190.2) rotate(-90)" font-size="41.2" text-anchor="end">NRCH-APOBEC-nCas9-Ung</text>
<path d="M302.7,1832.7V1846.1M293.7,1832.7h18M293.7,1846.1h18" stroke="#7a7a7a" stroke-width="1.4" fill="none"/>
<line x1="283.7" y1="1838.5" x2="321.7" y2="1838.5" stroke="#000" stroke-width="2.4"/>
<ellipse cx="302.7" cy="1827.6" rx="3.3" ry="2.9" fill="#000"/>
<ellipse cx="302.7" cy="1840.3" rx="3.3" ry="2.9" fill="#000"/>
<ellipse cx="302.7" cy="1850.5" rx="3.3" ry="2.9" fill="#000"/>
<path d="M359.8,1829.8V1846.1M350.8,1829.8h18M350.8,1846.1h18" stroke="#7a7a7a" stroke-width="1.4" fill="none"/>
<line x1="340.8" y1="1837.4" x2="378.8" y2="1837.4" stroke="#000" stroke-width="2.4"/>
<ellipse cx="359.8" cy="1823.9" rx="3.3" ry="2.9" fill="#000"/>
<ellipse cx="359.8" cy="1840.3" rx="3.3" ry="2.9" fill="#000"/>
<ellipse cx="359.8" cy="1851.6" rx="3.3" ry="2.9" fill="#000"/>
<path d="M417.0,1836.3V1851.6M408.0,1836.3h18M408.0,1851.6h18" stroke="#7a7a7a" stroke-width="1.4" fill="none"/>
<line x1="398.0" y1="1843.9" x2="436.0" y2="1843.9" stroke="#000" stroke-width="2.4"/>
<ellipse cx="417.0" cy="1829.8" rx="3.3" ry="2.9" fill="#000"/>
<ellipse cx="413.4" cy="1851.6" rx="3.3" ry="2.9" fill="#000"/>
<ellipse cx="420.6" cy="1854.8" rx="3.3" ry="2.9" fill="#000"/>
<path d="M474.1,1838.8V1864.3M465.1,1838.8h18M465.1,1864.3h18" stroke="#7a7a7a" stroke-width="1.4" fill="none"/>
<line x1="455.1" y1="1850.5" x2="493.1" y2="1850.5" stroke="#000" stroke-width="2.4"/>
<ellipse cx="474.1" cy="1829.4" rx="3.3" ry="2.9" fill="#000"/>
<ellipse cx="474.1" cy="1859.9" rx="3.3" ry="2.9" fill="#000"/>
<ellipse cx="474.1" cy="1869.0" rx="3.3" ry="2.9" fill="#000"/>
<path d="M531.3,1840.3V1866.4M522.3,1840.3h18M522.3,1866.4h18" stroke="#7a7a7a" stroke-width="1.4" fill="none"/>
<line x1="512.3" y1="1851.9" x2="550.3" y2="1851.9" stroke="#000" stroke-width="2.4"/>
<ellipse cx="531.3" cy="1830.5" rx="3.3" ry="2.9" fill="#000"/>
<ellipse cx="531.3" cy="1863.2" rx="3.3" ry="2.9" fill="#000"/>
<ellipse cx="531.3" cy="1870.4" rx="3.3" ry="2.9" fill="#000"/>
<path d="M588.4,1845.4V1860.3M579.4,1845.4h18M579.4,1860.3h18" stroke="#7a7a7a" stroke-width="1.4" fill="none"/>
<line x1="569.4" y1="1852.3" x2="607.4" y2="1852.3" stroke="#000" stroke-width="2.4"/>
<ellipse cx="588.4" cy="1840.3" rx="3.3" ry="2.9" fill="#000"/>
<ellipse cx="588.4" cy="1853.4" rx="3.3" ry="2.9" fill="#000"/>
<ellipse cx="588.4" cy="1866.4" rx="3.3" ry="2.9" fill="#000"/>
<path d="M645.5,1826.5V1850.8M636.5,1826.5h18M636.5,1850.8h18" stroke="#7a7a7a" stroke-width="1.4" fill="none"/>
<line x1="626.5" y1="1837.7" x2="664.5" y2="1837.7" stroke="#000" stroke-width="2.4"/>
<ellipse cx="645.5" cy="1816.7" rx="3.3" ry="2.9" fill="#000"/>
<ellipse cx="641.9" cy="1851.2" rx="3.3" ry="2.9" fill="#000"/>
<ellipse cx="649.1" cy="1852.6" rx="3.3" ry="2.9" fill="#000"/>
<path d="M702.7,1820.0V1850.8M693.7,1820.0h18M693.7,1850.8h18" stroke="#7a7a7a" stroke-width="1.4" fill="none"/>
<line x1="683.7" y1="1833.8" x2="721.7" y2="1833.8" stroke="#000" stroke-width="2.4"/>
<ellipse cx="702.7" cy="1808.3" rx="3.3" ry="2.9" fill="#000"/>
<ellipse cx="699.1" cy="1848.6" rx="3.3" ry="2.9" fill="#000"/>
<ellipse cx="706.3" cy="1853.7" rx="3.3" ry="2.9" fill="#000"/>
<path d="M759.8,1860.6V1893.7M750.8,1860.6h18M750.8,1893.7h18" stroke="#7a7a7a" stroke-width="1.4" fill="none"/>
<line x1="740.8" y1="1875.2" x2="778.8" y2="1875.2" stroke="#000" stroke-width="2.4"/>
<ellipse cx="759.8" cy="1849.0" rx="3.3" ry="2.9" fill="#000"/>
<ellipse cx="759.8" cy="1887.9" rx="3.3" ry="2.9" fill="#000"/>
<ellipse cx="759.8" cy="1899.5" rx="3.3" ry="2.9" fill="#000"/>
<path d="M817.0,1865.7V1898.8M808.0,1865.7h18M808.0,1898.8h18" stroke="#7a7a7a" stroke-width="1.4" fill="none"/>
<line x1="798.0" y1="1880.2" x2="836.0" y2="1880.2" stroke="#000" stroke-width="2.4"/>
<ellipse cx="817.0" cy="1853.7" rx="3.3" ry="2.9" fill="#000"/>
<ellipse cx="817.0" cy="1894.4" rx="3.3" ry="2.9" fill="#000"/>
<ellipse cx="817.0" cy="1903.9" rx="3.3" ry="2.9" fill="#000"/>
<path d="M874.1,1730.2V1846.8M865.1,1730.2h18M865.1,1846.8h18" stroke="#7a7a7a" stroke-width="1.4" fill="none"/>
<line x1="855.1" y1="1767.8" x2="893.1" y2="1767.8" stroke="#000" stroke-width="2.4"/>
<ellipse cx="874.1" cy="1706.0" rx="3.3" ry="2.9" fill="#000"/>
<ellipse cx="874.1" cy="1839.5" rx="3.3" ry="2.9" fill="#000"/>
<ellipse cx="874.1" cy="1854.9" rx="3.3" ry="2.9" fill="#000"/>
<path d="M931.2,1780.2V1858.3M922.2,1780.2h18M922.2,1858.3h18" stroke="#7a7a7a" stroke-width="1.4" fill="none"/>
<line x1="912.2" y1="1809.2" x2="950.2" y2="1809.2" stroke="#000" stroke-width="2.4"/>
<ellipse cx="931.2" cy="1759.9" rx="3.3" ry="2.9" fill="#000"/>
<ellipse cx="931.2" cy="1846.8" rx="3.3" ry="2.9" fill="#000"/>
<ellipse cx="931.2" cy="1871.3" rx="3.3" ry="2.9" fill="#000"/>
<path d="M988.4,1950.3V1968.4M979.4,1950.3h18M979.4,1968.4h18" stroke="#7a7a7a" stroke-width="1.4" fill="none"/>
<line x1="969.4" y1="1958.5" x2="1007.4" y2="1958.5" stroke="#000" stroke-width="2.4"/>
<ellipse cx="984.6" cy="1949.1" rx="3.3" ry="2.9" fill="#000"/>
<ellipse cx="992.2" cy="1951.2" rx="3.3" ry="2.9" fill="#000"/>
<ellipse cx="988.4" cy="1980.2" rx="3.3" ry="2.9" fill="#000"/>
<path d="M1045.5,1800.2V1874.3M1036.5,1800.2h18M1036.5,1874.3h18" stroke="#7a7a7a" stroke-width="1.4" fill="none"/>
<line x1="1026.5" y1="1828.3" x2="1064.5" y2="1828.3" stroke="#000" stroke-width="2.4"/>
<ellipse cx="1045.5" cy="1779.9" rx="3.3" ry="2.9" fill="#000"/>
<ellipse cx="1045.5" cy="1866.7" rx="3.3" ry="2.9" fill="#000"/>
<ellipse cx="1045.5" cy="1882.8" rx="3.3" ry="2.9" fill="#000"/>
<path d="M1102.7,1790.2V1853.4M1093.7,1790.2h18M1093.7,1853.4h18" stroke="#7a7a7a" stroke-width="1.4" fill="none"/>
<line x1="1083.7" y1="1815.3" x2="1121.7" y2="1815.3" stroke="#000" stroke-width="2.4"/>
<ellipse cx="1102.7" cy="1772.9" rx="3.3" ry="2.9" fill="#000"/>
<ellipse cx="1102.7" cy="1831.0" rx="3.3" ry="2.9" fill="#000"/>
<ellipse cx="1102.7" cy="1880.7" rx="3.3" ry="2.9" fill="#000"/>
<path d="M1159.8,1858.6V1908.2M1150.8,1858.6h18M1150.8,1908.2h18" stroke="#7a7a7a" stroke-width="1.4" fill="none"/>
<line x1="1140.8" y1="1879.5" x2="1178.8" y2="1879.5" stroke="#000" stroke-width="2.4"/>
<ellipse cx="1159.8" cy="1845.3" rx="3.3" ry="2.9" fill="#000"/>
<ellipse cx="1159.8" cy="1884.9" rx="3.3" ry="2.9" fill="#000"/>
<ellipse cx="1159.8" cy="1933.9" rx="3.3" ry="2.9" fill="#000"/>
<path d="M1216.9,1943.3V1980.8M1207.9,1943.3h18M1207.9,1980.8h18" stroke="#7a7a7a" stroke-width="1.4" fill="none"/>
<line x1="1197.9" y1="1960.0" x2="1235.9" y2="1960.0" stroke="#000" stroke-width="2.4"/>
<ellipse cx="1213.1" cy="1942.1" rx="3.3" ry="2.9" fill="#000"/>
<ellipse cx="1220.7" cy="1945.4" rx="3.3" ry="2.9" fill="#000"/>
<ellipse cx="1216.9" cy="2010.5" rx="3.3" ry="2.9" fill="#000"/>
<path d="M1274.1,1930.6V1967.5M1265.1,1930.6h18M1265.1,1967.5h18" stroke="#7a7a7a" stroke-width="1.4" fill="none"/>
<line x1="1255.1" y1="1946.9" x2="1293.1" y2="1946.9" stroke="#000" stroke-width="2.4"/>
<ellipse cx="1274.1" cy="1927.6" rx="3.3" ry="2.9" fill="#000"/>
<ellipse cx="1274.1" cy="1934.2" rx="3.3" ry="2.9" fill="#000"/>
<ellipse cx="1274.1" cy="1996.6" rx="3.3" ry="2.9" fill="#000"/>
<path d="M1331.2,1875.2V1918.8M1322.2,1875.2h18M1322.2,1918.8h18" stroke="#7a7a7a" stroke-width="1.4" fill="none"/>
<line x1="1312.2" y1="1894.0" x2="1350.2" y2="1894.0" stroke="#000" stroke-width="2.4"/>
<ellipse cx="1331.2" cy="1867.3" rx="3.3" ry="2.9" fill="#000"/>
<ellipse cx="1331.2" cy="1886.7" rx="3.3" ry="2.9" fill="#000"/>
<ellipse cx="1331.2" cy="1951.8" rx="3.3" ry="2.9" fill="#000"/>
<path d="M1388.4,1789.6V1824.7M1379.4,1789.6h18M1379.4,1824.7h18" stroke="#7a7a7a" stroke-width="1.4" fill="none"/>
<line x1="1369.4" y1="1805.0" x2="1407.4" y2="1805.0" stroke="#000" stroke-width="2.4"/>
<ellipse cx="1388.4" cy="1782.0" rx="3.3" ry="2.9" fill="#000"/>
<ellipse cx="1388.4" cy="1801.1" rx="3.3" ry="2.9" fill="#000"/>
<ellipse cx="1388.4" cy="1846.5" rx="3.3" ry="2.9" fill="#000"/>
<path d="M1445.5,1830.1V1896.4M1436.5,1830.1h18M1436.5,1896.4h18" stroke="#7a7a7a" stroke-width="1.4" fill="none"/>
<line x1="1426.5" y1="1856.2" x2="1464.5" y2="1856.2" stroke="#000" stroke-width="2.4"/>
<ellipse cx="1445.5" cy="1815.0" rx="3.3" ry="2.9" fill="#000"/>
<ellipse cx="1445.5" cy="1859.8" rx="3.3" ry="2.9" fill="#000"/>
<ellipse cx="1445.5" cy="1946.6" rx="3.3" ry="2.9" fill="#000"/>
<path d="M1502.6,1854.9V1927.3M1493.6,1854.9h18M1493.6,1927.3h18" stroke="#7a7a7a" stroke-width="1.4" fill="none"/>
<line x1="1483.6" y1="1882.5" x2="1521.6" y2="1882.5" stroke="#000" stroke-width="2.4"/>
<ellipse cx="1502.6" cy="1838.9" rx="3.3" ry="2.9" fill="#000"/>
<ellipse cx="1502.6" cy="1886.1" rx="3.3" ry="2.9" fill="#000"/>
<ellipse cx="1502.6" cy="1989.9" rx="3.3" ry="2.9" fill="#000"/>
<path d="M1559.8,1935.1V1992.3M1550.8,1935.1h18M1550.8,1992.3h18" stroke="#7a7a7a" stroke-width="1.4" fill="none"/>
<line x1="1540.8" y1="1958.1" x2="1578.8" y2="1958.1" stroke="#000" stroke-width="2.4"/>
<ellipse cx="1559.8" cy="1919.1" rx="3.3" ry="2.9" fill="#000"/>
<ellipse cx="1559.8" cy="1970.6" rx="3.3" ry="2.9" fill="#000"/>
<ellipse cx="1559.8" cy="2018.1" rx="3.3" ry="2.9" fill="#000"/>
<path d="M1616.9,1932.4V1980.5M1607.9,1932.4h18M1607.9,1980.5h18" stroke="#7a7a7a" stroke-width="1.4" fill="none"/>
<line x1="1597.9" y1="1952.7" x2="1635.9" y2="1952.7" stroke="#000" stroke-width="2.4"/>
<ellipse cx="1616.9" cy="1924.2" rx="3.3" ry="2.9" fill="#000"/>
<ellipse cx="1616.9" cy="1944.2" rx="3.3" ry="2.9" fill="#000"/>
<ellipse cx="1616.9" cy="2019.6" rx="3.3" ry="2.9" fill="#000"/>
<path d="M1674.1,1818.6V1916.1M1665.1,1818.6h18M1665.1,1916.1h18" stroke="#7a7a7a" stroke-width="1.4" fill="none"/>
<line x1="1655.1" y1="1852.2" x2="1693.1" y2="1852.2" stroke="#000" stroke-width="2.4"/>
<ellipse cx="1674.1" cy="1795.9" rx="3.3" ry="2.9" fill="#000"/>
<ellipse cx="1674.1" cy="1892.5" rx="3.3" ry="2.9" fill="#000"/>
<ellipse cx="1674.1" cy="1947.9" rx="3.3" ry="2.9" fill="#000"/>
<path d="M1731.2,1785.9V1854.6M1722.2,1785.9h18M1722.2,1854.6h18" stroke="#7a7a7a" stroke-width="1.4" fill="none"/>
<line x1="1712.2" y1="1812.3" x2="1750.2" y2="1812.3" stroke="#000" stroke-width="2.4"/>
<ellipse cx="1731.2" cy="1767.8" rx="3.3" ry="2.9" fill="#000"/>
<ellipse cx="1731.2" cy="1831.3" rx="3.3" ry="2.9" fill="#000"/>
<ellipse cx="1731.2" cy="1883.1" rx="3.3" ry="2.9" fill="#000"/>
<path d="M1788.3,1963.9V1991.4M1779.3,1963.9h18M1779.3,1991.4h18" stroke="#7a7a7a" stroke-width="1.4" fill="none"/>
<line x1="1769.3" y1="1976.3" x2="1807.3" y2="1976.3" stroke="#000" stroke-width="2.4"/>
<ellipse cx="1788.3" cy="1958.1" rx="3.3" ry="2.9" fill="#000"/>
<ellipse cx="1788.3" cy="1971.5" rx="3.3" ry="2.9" fill="#000"/>
<ellipse cx="1788.3" cy="2008.1" rx="3.3" ry="2.9" fill="#000"/>
<line x1="305.5" y1="1685.6" x2="813.6" y2="1685.6" stroke="#000" stroke-width="4"/>
<text x="549.6" y="1676.1" font-size="32.7" text-anchor="middle" fill="#000">ab</text>
<text x="870.5" y="1676.1" font-size="32.7" text-anchor="middle" fill="#000">a</text>
<text x="929.0" y="1676.1" font-size="32.7" text-anchor="middle" fill="#000">ab</text>
<text x="988.5" y="1676.1" font-size="32.7" text-anchor="middle" fill="#000">b</text>
<line x1="1045.6" y1="1685.6" x2="1161.6" y2="1685.6" stroke="#000" stroke-width="4"/>
<text x="1103.0" y="1676.1" font-size="32.7" text-anchor="middle" fill="#000">ab</text>
<text x="1216.0" y="1676.1" font-size="32.7" text-anchor="middle" fill="#000">b</text>
<line x1="1275.6" y1="1685.6" x2="1500.6" y2="1685.6" stroke="#000" stroke-width="4"/>
<text x="1386.0" y="1676.1" font-size="32.7" text-anchor="middle" fill="#000">ab</text>
<line x1="1557.7" y1="1685.6" x2="1613.6" y2="1685.6" stroke="#000" stroke-width="4"/>
<text x="1584.0" y="1676.1" font-size="32.7" text-anchor="middle" fill="#000">b</text>
<line x1="1670" y1="1686.8" x2="1725.6" y2="1686.8" stroke="#000" stroke-width="4"/>
<text x="1697.5" y="1676.1" font-size="32.7" text-anchor="middle" fill="#000">ab</text>
<text x="1784.0" y="1676.1" font-size="32.7" text-anchor="middle" fill="#000">b</text>
</svg></body></html>
